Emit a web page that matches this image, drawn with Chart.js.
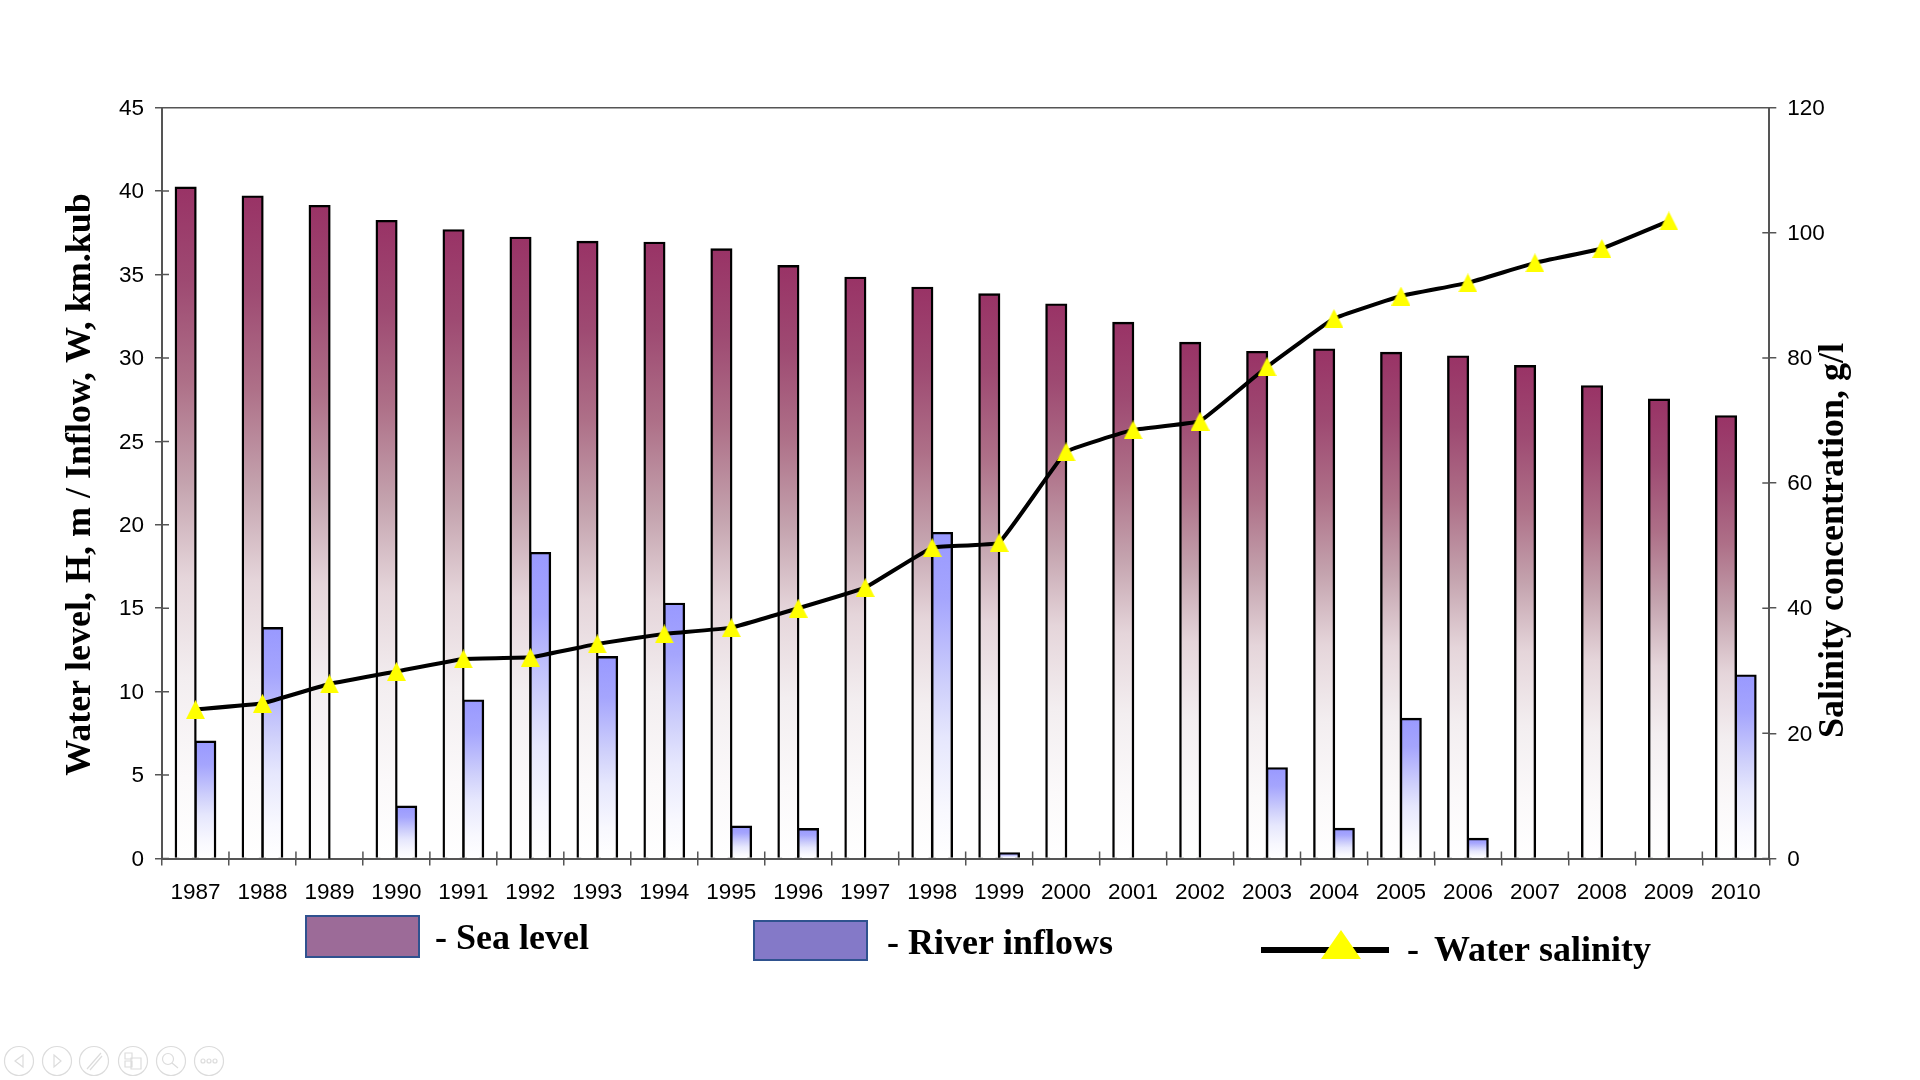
<!DOCTYPE html>
<html>
<head>
<meta charset="utf-8">
<title>Water level, inflows and salinity</title>
<script src="https://cdn.jsdelivr.net/npm/chart.js@4"></script>
<style>
  body { margin: 0; background: #fff; }
  canvas { display: block; }
</style>
</head>
<body>
<canvas id="seaChart" width="1920" height="1080"></canvas>
<script>
const years = ['1987', '1988', '1989', '1990', '1991', '1992', '1993', '1994', '1995', '1996', '1997', '1998',
  '1999', '2000', '2001', '2002', '2003', '2004', '2005', '2006', '2007', '2008', '2009', '2010'];
const seaLevel = [40.2, 39.67, 39.1, 38.2, 37.65, 37.2, 36.95, 36.9, 36.5, 35.5, 34.8, 34.2,
  33.8, 33.2, 32.1, 30.9, 30.35, 30.5, 30.3, 30.08, 29.5, 28.3, 27.5, 26.5];
const riverInflows = [7.0, 13.8, null, 3.1, 9.46, 18.3, 12.06, 15.26, 1.9, 1.75, null, 19.5,
  0.3, null, null, null, 5.4, 1.77, 8.36, 1.17, null, null, null, 10.96];
const salinity = [23.8, 24.8, 27.9, 29.9, 31.9, 32.15, 34.3, 35.9, 36.9, 40.0, 43.3, 49.7,
  50.5, 65.0, 68.5, 69.9, 78.6, 86.3, 89.9, 92.0, 95.2, 97.5, 101.9, null];

// colour stops, top of the bar = 0, axis = 1
const seaStops = [[0, '#993366'], [0.14, '#9e4a72'], [0.29, '#ae7088'], [0.44, '#c4a3ae'],
  [0.58, '#e5d5da'], [0.73, '#f3eef0'], [0.88, '#fbf9fa'], [1, '#ffffff']];
const riverStops = [[0, '#9999ff'], [0.2, '#a5a5fd'], [0.47, '#cfd0fb'], [0.63, '#e6e7fd'],
  [0.85, '#f8f8fe'], [1, '#ffffff']];

const axisColor = '#555555';
const sansFont = { family: 'Liberation Sans', size: 22.5 };
const serifBold = 'bold 36px "Liberation Serif"';

// yellow marker, a plain canvas so the triangle gets the reference's proportions
function triangleMarker(size) {
  const c = document.createElement('canvas');
  c.width = size;
  c.height = size;
  const g = c.getContext('2d');
  g.fillStyle = '#ffff00';
  g.beginPath();
  g.moveTo(size / 2, 0);
  g.lineTo(size, size);
  g.lineTo(0, size);
  g.closePath();
  g.fill();
  return c;
}

// each bar fades from its own top down to white at the axis
function barGradient(stops) {
  return (context) => {
    const { chart, parsed } = context;
    if (!chart.chartArea || !parsed || !Number.isFinite(parsed.y)) return stops[0][1];
    const y = chart.scales.y;
    const grad = chart.ctx.createLinearGradient(0, y.getPixelForValue(parsed.y), 0, y.getPixelForValue(0));
    stops.forEach(([pos, color]) => grad.addColorStop(pos, color));
    return grad;
  };
}

const extras = {
  id: 'extras',
  afterDraw(chart) {
    const ctx = chart.ctx;
    const { left, right, top, bottom } = chart.chartArea;
    ctx.save();

    // top line and inner half of the ticks
    ctx.strokeStyle = axisColor;
    ctx.lineWidth = 1.5;
    ctx.beginPath();
    ctx.moveTo(left, top);
    ctx.lineTo(right, top);
    chart.scales.y.ticks.forEach((t) => {
      const py = chart.scales.y.getPixelForValue(t.value);
      ctx.moveTo(left, py);
      ctx.lineTo(left + 7, py);
    });
    chart.scales.y1.ticks.forEach((t) => {
      const py = chart.scales.y1.getPixelForValue(t.value);
      ctx.moveTo(right, py);
      ctx.lineTo(right - 7, py);
    });
    const step = (right - left) / years.length;
    for (let i = 0; i <= years.length; i++) {
      ctx.moveTo(left + i * step, bottom);
      ctx.lineTo(left + i * step, bottom - 7);
    }
    ctx.stroke();

    // axis titles
    ctx.fillStyle = '#000';
    ctx.font = serifBold;
    ctx.textAlign = 'center';
    ctx.textBaseline = 'alphabetic';
    ctx.save();
    ctx.translate(90, 484.5);
    ctx.rotate(-Math.PI / 2);
    ctx.fillText('Water level, H, m / Inflow, W, km.kub', 0, 0);
    ctx.restore();
    ctx.save();
    ctx.translate(1843, 540.5);
    ctx.rotate(-Math.PI / 2);
    ctx.fillText('Salinity concentration, g/l', 0, 0);
    ctx.restore();

    // legend
    ctx.textAlign = 'left';
    ctx.lineWidth = 2;
    ctx.strokeStyle = '#2f528f';
    ctx.fillStyle = '#9c6b98';
    ctx.fillRect(306, 916, 113, 41);
    ctx.strokeRect(306, 916, 113, 41);
    ctx.fillStyle = '#8479c8';
    ctx.fillRect(754, 921, 113, 39);
    ctx.strokeRect(754, 921, 113, 39);
    ctx.fillStyle = '#000';
    ctx.fillText('- Sea level', 435, 949);
    ctx.fillText('- River inflows', 887, 954);
    ctx.fillText('-', 1407, 961);
    ctx.fillText('Water salinity', 1434, 961);
    ctx.fillRect(1261, 947, 128, 6);
    ctx.fillStyle = '#ffff00';
    ctx.beginPath();
    ctx.moveTo(1341, 930);
    ctx.lineTo(1361, 959);
    ctx.lineTo(1321, 959);
    ctx.closePath();
    ctx.fill();

    // slide show buttons bottom left
    ctx.strokeStyle = '#dcdcdc';
    ctx.lineWidth = 1.2;
    [19, 57, 94, 133, 171, 209].forEach((cx) => {
      ctx.beginPath();
      ctx.arc(cx, 1061, 14.5, 0, Math.PI * 2);
      ctx.stroke();
    });
    ctx.beginPath();
    ctx.moveTo(23, 1055); ctx.lineTo(15, 1061); ctx.lineTo(23, 1067); ctx.closePath();
    ctx.moveTo(54, 1055); ctx.lineTo(61, 1061); ctx.lineTo(54, 1067); ctx.closePath();
    ctx.moveTo(87, 1069); ctx.lineTo(101, 1053);
    ctx.moveTo(90, 1070); ctx.lineTo(102, 1056);
    ctx.rect(125, 1053, 7, 6);
    ctx.rect(125, 1061, 7, 6);
    ctx.rect(131, 1058, 10, 11);
    ctx.moveTo(173, 1059); ctx.arc(168, 1059, 5.5, 0, Math.PI * 2);
    ctx.moveTo(172, 1063); ctx.lineTo(178, 1068);
    [203, 209, 215].forEach((dx) => { ctx.moveTo(dx + 2, 1061); ctx.arc(dx, 1061, 2, 0, Math.PI * 2); });
    ctx.stroke();

    ctx.restore();
  }
};

const seaChart = new Chart(document.getElementById('seaChart'), {
  data: {
    labels: years,
    datasets: [
      {
        type: 'line',
        label: 'Water salinity',
        data: salinity,
        yAxisID: 'y1',
        order: 0,
        borderColor: '#000',
        borderWidth: 4,
        tension: 0.08,
        pointStyle: triangleMarker(19),
        pointRadius: 9
      },
      {
        type: 'bar',
        label: 'Sea level',
        data: seaLevel,
        yAxisID: 'y',
        order: 1,
        backgroundColor: barGradient(seaStops),
        borderColor: '#000',
        borderWidth: 2.4,
        inflateAmount: 1.2,
        categoryPercentage: 0.587,
        barPercentage: 1
      },
      {
        type: 'bar',
        label: 'River inflows',
        data: riverInflows,
        yAxisID: 'y',
        order: 1,
        backgroundColor: barGradient(riverStops),
        borderColor: '#000',
        borderWidth: 2.4,
        inflateAmount: 1.2,
        categoryPercentage: 0.587,
        barPercentage: 1
      }
    ]
  },
  options: {
    responsive: false,
    animation: false,
    layout: { padding: { top: 107.7 } },
    plugins: {
      legend: { display: false },
      tooltip: { enabled: false }
    },
    scales: {
      x: {
        offset: true,
        afterFit: (s) => { s.height = 221.5; },
        grid: { offset: true, drawOnChartArea: false, tickLength: 7, tickColor: axisColor, lineWidth: 1.5 },
        border: { color: axisColor, width: 2 },
        ticks: { color: '#000', font: sansFont, padding: 14, maxRotation: 0, autoSkip: false }
      },
      y: {
        position: 'left',
        min: 0,
        max: 45,
        afterFit: (s) => { s.width = 162; },
        grid: { drawOnChartArea: false, tickLength: 7, tickColor: axisColor, lineWidth: 1.5 },
        border: { color: axisColor, width: 2 },
        ticks: { stepSize: 5, color: '#000', font: sansFont, padding: 11, labelOffset: 1 }
      },
      y1: {
        position: 'right',
        min: 0,
        max: 120,
        afterFit: (s) => { s.width = 150.7; },
        grid: { drawOnChartArea: false, tickLength: 7, tickColor: axisColor, lineWidth: 1.5 },
        border: { color: axisColor, width: 2 },
        ticks: { stepSize: 20, color: '#000', font: sansFont, padding: 11, labelOffset: 1 }
      }
    }
  },
  plugins: [extras]
});
</script>
</body>
</html>
